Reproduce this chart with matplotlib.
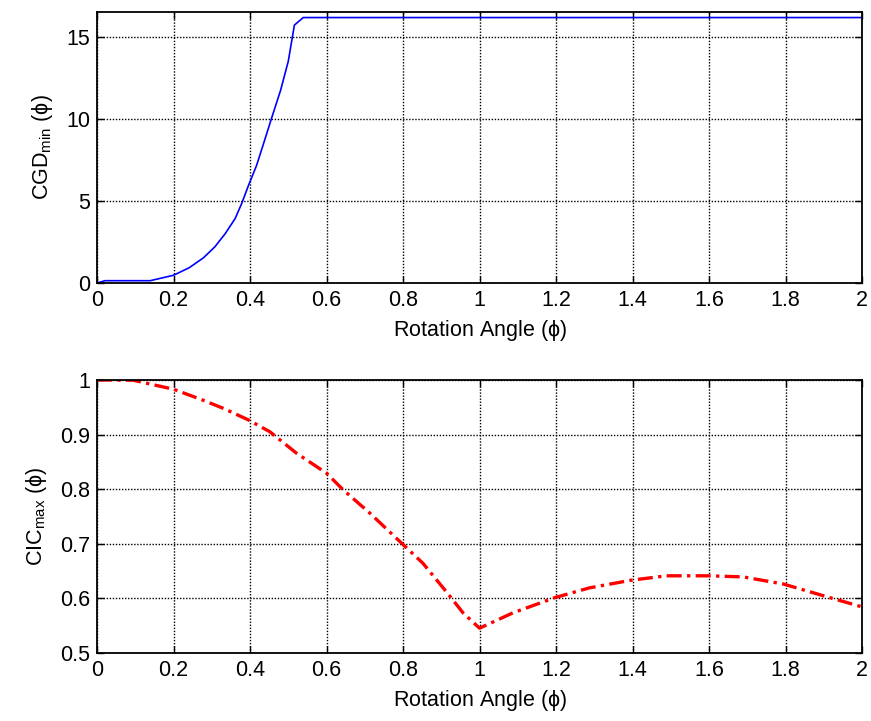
import matplotlib
matplotlib.use("Agg")
import matplotlib.pyplot as plt

plt.rcParams["font.family"] = ["Liberation Sans", "DejaVu Sans"]
plt.rcParams["mathtext.fontset"] = "custom"
plt.rcParams["mathtext.rm"] = "Liberation Sans"
plt.rcParams["mathtext.it"] = "Liberation Sans"

# top panel: CGD_min vs rotation angle
cgd_x = [0.0, 0.021, 0.139, 0.2, 0.241, 0.278, 0.308, 0.335, 0.361, 0.378,
         0.396, 0.417, 0.435, 0.457, 0.48, 0.5, 0.516, 0.539, 2.0]
cgd_y = [0.0, 0.14, 0.14, 0.47, 0.93, 1.53, 2.2, 3.0, 3.92, 4.83,
         5.94, 7.15, 8.46, 10.08, 11.74, 13.5, 15.7, 16.16, 16.16]

# bottom panel: CIC_max vs rotation angle
cic_x = [0.0, 0.094, 0.2, 0.277, 0.33, 0.395, 0.452, 0.521, 0.6, 0.643,
         0.713, 0.796, 0.852, 0.913, 0.957, 1.0, 1.087, 1.197, 1.288,
         1.397, 1.489, 1.598, 1.689, 1.794, 1.916, 2.0]
cic_y = [1.0, 0.9996, 0.983, 0.963, 0.948, 0.927, 0.905, 0.866, 0.829, 0.799,
         0.756, 0.701, 0.664, 0.612, 0.573, 0.545, 0.573, 0.601, 0.619,
         0.633, 0.641, 0.641, 0.639, 0.626, 0.601, 0.584]

x_ticks = [0, 0.2, 0.4, 0.6, 0.8, 1, 1.2, 1.4, 1.6, 1.8, 2]
x_labels = ["0", "0.2", "0.4", "0.6", "0.8", "1", "1.2", "1.4", "1.6", "1.8", "2"]

FS = 15.5

fig = plt.figure(figsize=(8.71, 7.21), dpi=100)
ax1 = fig.add_axes([0.1114, 0.6075, 0.8783, 0.3759])
ax2 = fig.add_axes([0.1114, 0.0947, 0.8783, 0.3783])


def style(ax):
    ax.set_xlim(0, 2)
    ax.set_xticks(x_ticks)
    ax.set_xticklabels(x_labels)
    ax.grid(True, color="black", linestyle=(0, (1, 1.2)), linewidth=1.0)
    ax.tick_params(direction="in", top=True, right=True, labelsize=FS,
                   length=5, width=1, pad=5)
    for s in ax.spines.values():
        s.set_linewidth(1.3)
    ax.set_xlabel(r"Rotation Angle ($\phi$)", fontsize=FS, labelpad=5)


ax1.plot(cgd_x, cgd_y, color="blue", linewidth=1.2)
style(ax1)
ax1.set_ylim(0, 16.5)
ax1.set_yticks([0, 5, 10, 15])
ax1.set_ylabel(r"CGD$_{\mathrm{min}}$ ($\phi$)", fontsize=FS, labelpad=8)

ax2.plot(cic_x, cic_y, color="red", linewidth=2.4, linestyle=(0, (4.5, 1.6, 1, 1.6)))
style(ax2)
ax2.set_ylim(0.5, 1.0)
ax2.set_yticks([0.5, 0.6, 0.7, 0.8, 0.9, 1.0])
ax2.set_yticklabels(["0.5", "0.6", "0.7", "0.8", "0.9", "1"])
ax2.set_ylabel(r"CIC$_{\mathrm{max}}$ ($\phi$)", fontsize=FS, labelpad=8)

fig.savefig("out.png", dpi=100)
